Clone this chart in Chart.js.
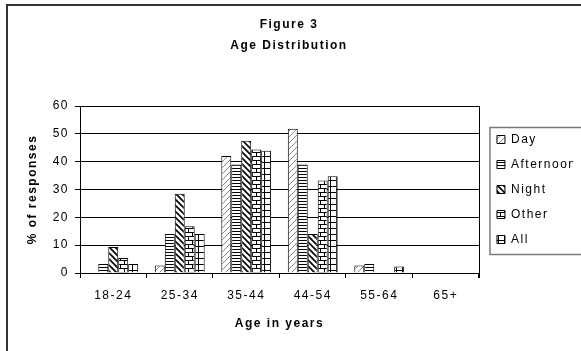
<!DOCTYPE html>
<html>
<head>
<meta charset="utf-8">
<script src="https://cdn.jsdelivr.net/npm/chart.js@4/dist/chart.umd.min.js"></script>
<style>
    html, body { margin: 0; padding: 0; background: #fff; overflow: hidden; }
    #wrap { position: relative; width: 620px; height: 360px; }
</style>
</head>
<body>
<div id="wrap"><canvas id="chart" width="620" height="360"></canvas></div>
<script>
// data
const ageGroups = ['18-24', '25-34', '35-44', '44-54', '55-64', '65+'];
const day = [0, 2.7, 42, 51.8, 2.7, 0];
const afternoon = [3.2, 14, 39, 39, 3.2, 0];
const night = [9.3, 28.5, 47.5, 14, 0, 0];
const other = [5.4, 16.8, 44.4, 33.2, 0, 0];
const all = [3.2, 14, 43.9, 34.8, 2.3, 0];
const yTicks = [0, 10, 20, 30, 40, 50, 60];

// small fill patterns, like the old excel hatches
function makePattern(w, h, draw) {
    const c = document.createElement('canvas');
    c.width = w;
    c.height = h;
    const g = c.getContext('2d');
    g.fillStyle = '#fff';
    g.fillRect(0, 0, w, h);
    g.fillStyle = '#000';
    g.strokeStyle = '#000';
    draw(g, w, h);
    return g.createPattern(c, 'repeat');
}

const dayFill = makePattern(6, 6, function (g, w, h) {
    g.strokeStyle = '#8a8a8a';
    g.lineWidth = 1;
    g.beginPath();
    g.moveTo(0, h); g.lineTo(w, 0);
    g.moveTo(-1, 1); g.lineTo(1, -1);
    g.moveTo(w - 1, h + 1); g.lineTo(w + 1, h - 1);
    g.stroke();
});
const afternoonFill = makePattern(3, 3, function (g, w) {
    g.fillRect(0, 0, w, 1);
});
const nightFill = makePattern(6, 6, function (g, w, h) {
    g.lineWidth = 1.6;
    g.beginPath();
    g.moveTo(0, 0); g.lineTo(w, h);
    g.moveTo(-1, h - 1); g.lineTo(1, h + 1);
    g.moveTo(w - 1, -1); g.lineTo(w + 1, 1);
    g.stroke();
});
const otherFill = makePattern(8, 8, function (g) {
    g.fillRect(0, 0, 8, 1);
    g.fillRect(0, 4, 8, 1);
    g.fillRect(0, 0, 1, 4);
    g.fillRect(4, 4, 1, 4);
});
const allFill = makePattern(6, 6, function (g) {
    g.fillRect(0, 0, 6, 1);
    g.fillRect(0, 0, 1, 6);
});

Chart.defaults.font.family = "'Liberation Sans', Arial, sans-serif";
Chart.defaults.color = '#000';

// frame, plot border, legend box and the letter spacing of the old rendering
const framePlugin = {
    id: 'frame',
    afterLayout(chart) {
        chart.legend.left += 5;
        chart.legend.right += 5;
    },
    beforeDraw(chart) {
        const ctx = chart.ctx;
        ctx.save();
        ctx.fillStyle = '#fff';
        ctx.fillRect(0, 0, chart.width, chart.height);
        ctx.strokeStyle = '#333';
        ctx.lineWidth = 2;
        ctx.strokeRect(7, 5, chart.width + 20, chart.height + 20);
        ctx.restore();
        ctx.letterSpacing = '1.5px';
    },
    afterDraw(chart) {
        const ctx = chart.ctx;
        const a = chart.chartArea;
        ctx.letterSpacing = '0px';
        ctx.save();
        ctx.strokeStyle = '#000';
        ctx.lineWidth = 1;
        ctx.beginPath();
        ctx.moveTo(Math.round(a.right) + 0.5, a.top);
        ctx.lineTo(Math.round(a.right) + 0.5, a.bottom + 5);
        ctx.stroke();
        const boxes = chart.legend.legendHitBoxes;
        if (boxes && boxes.length) {
            const first = boxes[0];
            const last = boxes[boxes.length - 1];
            ctx.strokeStyle = '#7a7a7a';
            ctx.lineWidth = 1.5;
            ctx.strokeRect(first.left - 7, first.top - 6, chart.width, last.top + last.height - first.top + 15);
        }
        ctx.restore();
    }
};

const ctx = document.getElementById('chart').getContext('2d');
const myChart = new Chart(ctx, {
    type: 'bar',
    data: {
        labels: ageGroups,
        datasets: [
            { label: 'Day', data: day, backgroundColor: dayFill },
            { label: 'Afternoon', data: afternoon, backgroundColor: afternoonFill },
            { label: 'Night', data: night, backgroundColor: nightFill },
            { label: 'Other', data: other, backgroundColor: otherFill },
            { label: 'All', data: all, backgroundColor: allFill }
        ]
    },
    options: {
        responsive: false,
        animation: false,
        devicePixelRatio: 1,
        datasets: {
            bar: {
                borderColor: '#000',
                borderWidth: 1,
                categoryPercentage: 0.75,
                barPercentage: 1
            }
        },
        layout: {
            padding: { left: 10, right: 52, top: 0, bottom: 27 }
        },
        plugins: {
            title: {
                display: true,
                text: ['Figure 3', 'Age Distribution'],
                font: { size: 12, weight: 'bold', lineHeight: '21px' },
                padding: { top: 14, bottom: 50 },
                color: '#000'
            },
            legend: {
                position: 'right',
                fullSize: false,
                labels: {
                    boxWidth: 8,
                    boxHeight: 8,
                    padding: 13,
                    font: { size: 12 },
                    color: '#000'
                }
            },
            tooltip: { enabled: false }
        },
        scales: {
            x: {
                grid: {
                    drawOnChartArea: false,
                    drawTicks: true,
                    tickLength: 5,
                    color: '#000',
                    offset: true
                },
                border: { color: '#000', width: 1 },
                ticks: {
                    font: { size: 12 },
                    padding: 10,
                    maxRotation: 0,
                    autoSkip: false
                },
                title: {
                    display: true,
                    text: 'Age in years',
                    font: { size: 12, weight: 'bold' },
                    padding: { top: 0, bottom: 2 }
                },
                afterFit(scale) { scale.height = 60; }
            },
            y: {
                min: yTicks[0],
                max: yTicks[yTicks.length - 1],
                afterBuildTicks(scale) {
                    scale.ticks = yTicks.map(v => ({ value: v }));
                },
                grid: {
                    color: '#000',
                    lineWidth: 1,
                    tickLength: 5
                },
                border: { color: '#000', width: 1 },
                ticks: {
                    font: { size: 12 },
                    padding: 6
                },
                title: {
                    display: true,
                    text: '% of responses',
                    font: { size: 12, weight: 'bold' },
                    padding: { top: 15, bottom: 0 }
                },
                afterFit(scale) { scale.width = 70; }
            }
        }
    },
    plugins: [framePlugin]
});
</script>
</body>
</html>
